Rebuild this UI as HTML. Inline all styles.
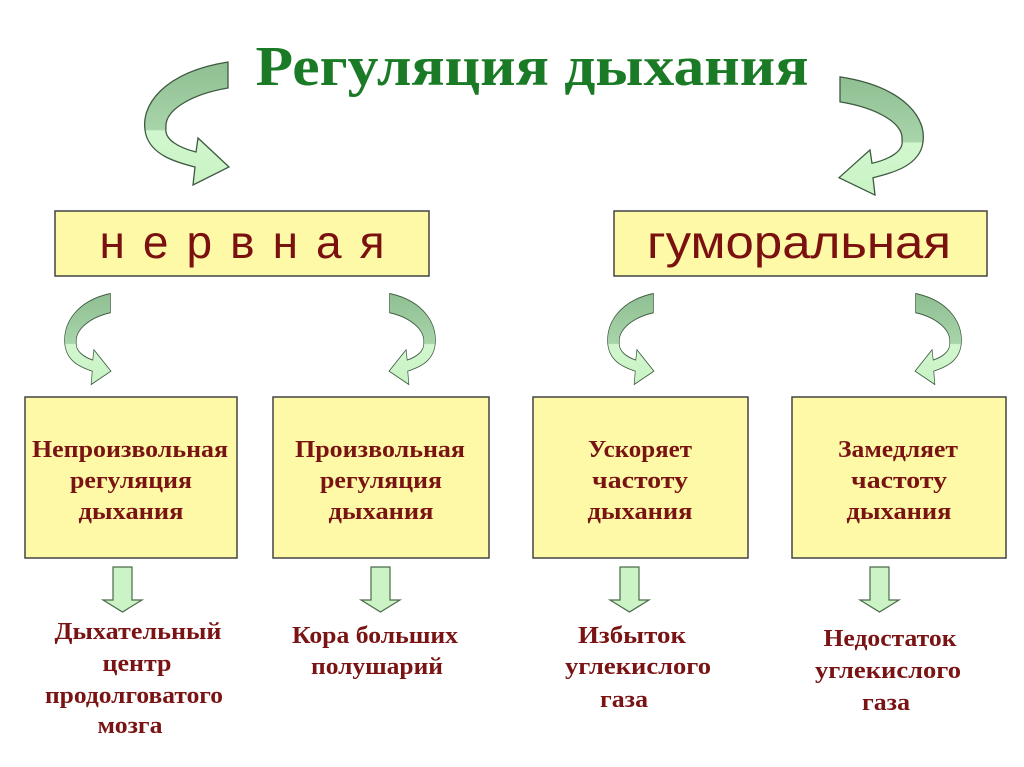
<!DOCTYPE html>
<html><head><meta charset="utf-8"><style>
html,body{margin:0;padding:0;background:#fff;}
svg{display:block;}
.b{font-family:"Liberation Serif",serif;font-weight:bold;font-size:24px;fill:#7a1414;text-anchor:middle;}
</style></head><body>
<svg width="1024" height="767" viewBox="0 0 1024 767" xmlns="http://www.w3.org/2000/svg">
<defs>
<linearGradient id="g" x1="0" y1="0" x2="0" y2="1">
<stop offset="0" stop-color="#8fbf92"/><stop offset="0.55" stop-color="#a8d4aa"/><stop offset="0.56" stop-color="#d2f7cf"/><stop offset="1" stop-color="#c8f2c4"/>
</linearGradient>
<path id="ca" d="M88,2 C25,12 -2,45 6,75 C12,95 35,102 55,107 L53,125 L89,107 L58,78 L56,92 C40,88 24,80 26,68 C24,50 52,34 88,28 Z" fill="url(#g)" stroke="#3e5a40" stroke-width="1.3"/>
<path id="da" d="M5,0 L24,0 L24,33 L34,33 L14.5,45 L-5,33 L5,33 Z" fill="#ccf3c6" stroke="#4a6a4a" stroke-width="1.2"/>
</defs>
<text x="532" y="85" text-anchor="middle" font-family="Liberation Serif,serif" font-weight="bold" font-size="56" fill="#1a7a26" textLength="553" lengthAdjust="spacingAndGlyphs">Регуляция дыхания</text>
<use href="#ca" transform="translate(140,60)"/>
<use href="#ca" transform="translate(928,75) scale(-1,0.96)"/>
<rect x="55" y="211" width="374" height="65" fill="#fdf9a6" stroke="#444" stroke-width="1.5"/>
<text x="242" y="258" text-anchor="middle" font-family="Liberation Sans,sans-serif" font-size="46" fill="#7a1010" textLength="285" lengthAdjust="spacing">н е р в н а я</text>
<rect x="614" y="211" width="373" height="65" fill="#fdf9a6" stroke="#444" stroke-width="1.5"/>
<text x="799" y="258" text-anchor="middle" font-family="Liberation Sans,sans-serif" font-size="46" fill="#7a1010" textLength="304" lengthAdjust="spacingAndGlyphs">гуморальная</text>
<use href="#ca" transform="translate(62,292) scale(0.55,0.74)"/>
<use href="#ca" transform="translate(438,292) scale(-0.55,0.74)"/>
<use href="#ca" transform="translate(605,292) scale(0.55,0.74)"/>
<use href="#ca" transform="translate(964,292) scale(-0.55,0.74)"/>
<rect x="25" y="397" width="212" height="161" fill="#fdf9a6" stroke="#444" stroke-width="1.5"/>
<rect x="273" y="397" width="216" height="161" fill="#fdf9a6" stroke="#444" stroke-width="1.5"/>
<rect x="533" y="397" width="215" height="161" fill="#fdf9a6" stroke="#444" stroke-width="1.5"/>
<rect x="792" y="397" width="214" height="161" fill="#fdf9a6" stroke="#444" stroke-width="1.5"/>
<g lengthAdjust="spacingAndGlyphs">
<text class="b" x="130" y="457" textLength="196" lengthAdjust="spacingAndGlyphs">Непроизвольная</text><text class="b" x="131" y="488" textLength="122" lengthAdjust="spacingAndGlyphs">регуляция</text><text class="b" x="131" y="519" textLength="105" lengthAdjust="spacingAndGlyphs">дыхания</text>
<text class="b" x="380" y="457" textLength="170" lengthAdjust="spacingAndGlyphs">Произвольная</text><text class="b" x="381" y="488" textLength="122" lengthAdjust="spacingAndGlyphs">регуляция</text><text class="b" x="381" y="519" textLength="105" lengthAdjust="spacingAndGlyphs">дыхания</text>
<text class="b" x="640" y="457" textLength="104" lengthAdjust="spacingAndGlyphs">Ускоряет</text><text class="b" x="640" y="488" textLength="96" lengthAdjust="spacingAndGlyphs">частоту</text><text class="b" x="640" y="519" textLength="105" lengthAdjust="spacingAndGlyphs">дыхания</text>
<text class="b" x="898" y="457" textLength="120" lengthAdjust="spacingAndGlyphs">Замедляет</text><text class="b" x="899" y="488" textLength="96" lengthAdjust="spacingAndGlyphs">частоту</text><text class="b" x="899" y="519" textLength="105" lengthAdjust="spacingAndGlyphs">дыхания</text>
</g>
<use href="#da" transform="translate(108,567)"/>
<use href="#da" transform="translate(366,567)"/>
<use href="#da" transform="translate(615,567)"/>
<use href="#da" transform="translate(865,567)"/>
<text class="b" x="138" y="639" textLength="167" lengthAdjust="spacingAndGlyphs">Дыхательный</text><text class="b" x="137" y="671" textLength="69" lengthAdjust="spacingAndGlyphs">центр</text><text class="b" x="134" y="703" textLength="178" lengthAdjust="spacingAndGlyphs">продолговатого</text><text class="b" x="130" y="733" textLength="65" lengthAdjust="spacingAndGlyphs">мозга</text>
<text class="b" x="375" y="643" textLength="166" lengthAdjust="spacingAndGlyphs">Кора больших</text><text class="b" x="377" y="674" textLength="132" lengthAdjust="spacingAndGlyphs">полушарий</text>
<text class="b" x="632" y="643" textLength="108" lengthAdjust="spacingAndGlyphs">Избыток</text><text class="b" x="638" y="674" textLength="146" lengthAdjust="spacingAndGlyphs">углекислого</text><text class="b" x="624" y="707" textLength="48" lengthAdjust="spacingAndGlyphs">газа</text>
<text class="b" x="890" y="646" textLength="133" lengthAdjust="spacingAndGlyphs">Недостаток</text><text class="b" x="888" y="678" textLength="146" lengthAdjust="spacingAndGlyphs">углекислого</text><text class="b" x="886" y="710" textLength="48" lengthAdjust="spacingAndGlyphs">газа</text>
</svg>
</body></html>
